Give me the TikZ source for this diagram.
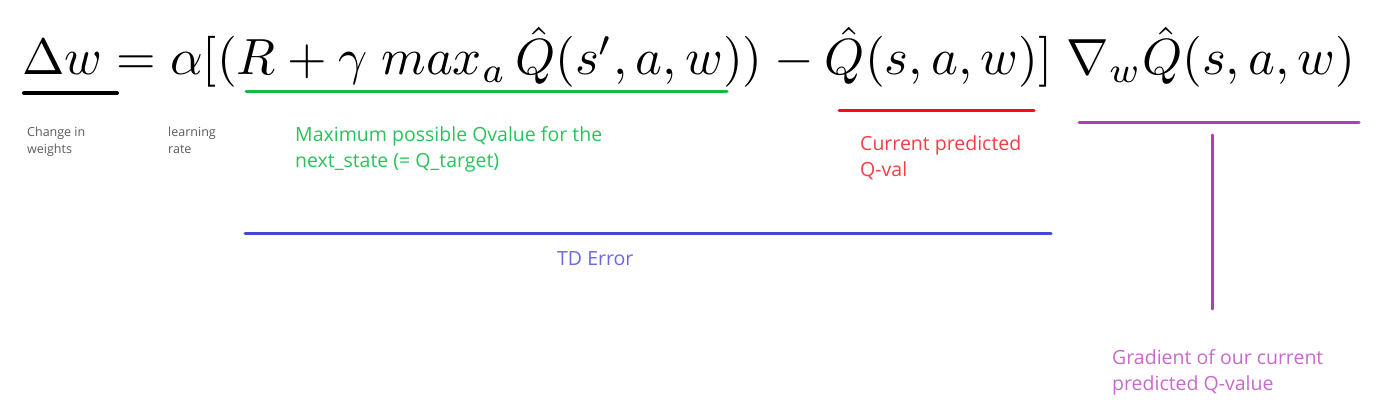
\documentclass[tikz,border=0pt]{standalone}
\usepackage{fontspec}
\usepackage{amsmath}
\usepackage{graphicx}
\newfontfamily\labfont{Open Sans}
\definecolor{lgreen}{RGB}{20,185,70}
\definecolor{tgreen}{RGB}{40,195,90}
\definecolor{lred}{RGB}{250,10,20}
\definecolor{tred}{RGB}{250,60,70}
\definecolor{lblue}{RGB}{70,70,215}
\definecolor{tblue}{RGB}{105,105,225}
\definecolor{lpurple}{RGB}{175,60,185}
\definecolor{tpurple}{RGB}{200,105,205}
\definecolor{tgray}{RGB}{90,90,90}
\tikzset{
  barline/.style={line width=3pt, line cap=round},
  biglabel/.style={inner sep=0pt, anchor=base west, align=left,
    font=\labfont\fontsize{19.5}{26}\selectfont},
  smalllabel/.style={inner sep=0pt, anchor=base west, align=left,
    font=\labfont\fontsize{12.5}{17}\selectfont, text=tgray},
}
\begin{document}
\begin{tikzpicture}[x=1pt,y=-1pt]
\useasboundingbox (0,0) rectangle (1377,404);
\node[inner sep=0pt, anchor=base west] (eq) at (22,75)
  {\resizebox{1333pt}{!}{$\Delta w = \alpha[(R + \gamma\; max_a\, \hat{Q}(s', a, w)) - \hat{Q}(s,a,w)]\; \nabla_w\hat{Q}(s,a,w)$}};
% underlines
\coordinate (k1) at (24,93);   \coordinate (k2) at (117,93);
\coordinate (g1) at (246,92);  \coordinate (g2) at (727,92);
\coordinate (r1) at (839,110); \coordinate (r2) at (1034,110);
\coordinate (b1) at (245,233); \coordinate (b2) at (1051,233);
\coordinate (p1) at (1079,122); \coordinate (p2) at (1359,122);
\coordinate (v1) at (1212,135); \coordinate (v2) at (1212,309);
\draw[barline, line width=4pt, black] (k1) -- (k2);
\draw[barline, lgreen] (g1) -- (g2);
\draw[barline, lred] (r1) -- (r2);
\draw[barline, lblue] (b1) -- (b2);
\draw[barline, lpurple] (p1) -- (p2);
\draw[barline, lpurple] (v1) -- (v2);
% labels (base anchor = baseline of the last line)
\node[smalllabel] (chg) at (27,153) {Change in\\weights};
\node[smalllabel] (lr) at (168,153) {learning\\rate};
\node[biglabel, text=tgreen] (maxq) at (295,167) {Maximum possible Qvalue for the\\next\_state (= Q\_target)};
\node[biglabel, text=tred] (cur) at (860,176) {Current predicted\\Q-val};
\node[biglabel, text=tblue] (td) at (557,265) {TD Error};
\node[biglabel, text=tpurple] (grad) at (1112,390) {Gradient of our current\\predicted Q-value};
\end{tikzpicture}
\end{document}
